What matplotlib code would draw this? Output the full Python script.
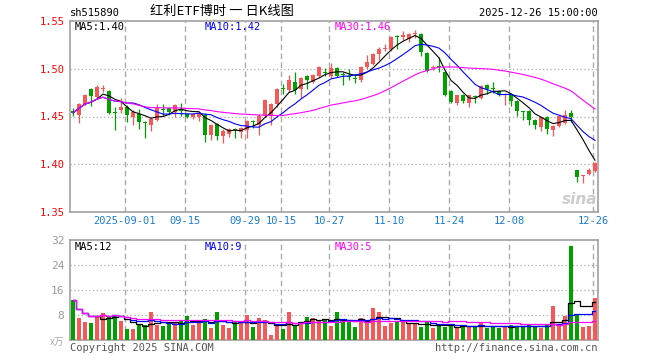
import numpy as np
import pandas as pd
import matplotlib
matplotlib.use("Agg")
import matplotlib.pyplot as plt

plt.rcParams['font.family'] = ['DejaVu Sans Mono', 'Noto Sans CJK SC']

# daily OHLC, 2025-08-19 .. 2025-12-26 (88 trading days)
opens = [1.456, 1.452, 1.463, 1.479, 1.470, 1.479, 1.477, 1.455, 1.457, 1.460,
         1.449, 1.453, 1.444, 1.441, 1.446, 1.458, 1.459, 1.455, 1.458, 1.453,
         1.450, 1.449, 1.452, 1.431, 1.442, 1.430, 1.432, 1.437, 1.434, 1.436,
         1.445, 1.441, 1.451, 1.451, 1.463, 1.480, 1.478, 1.486, 1.479, 1.492,
         1.486, 1.492, 1.497, 1.492, 1.501, 1.494, 1.492, 1.490, 1.488, 1.502,
         1.505, 1.515, 1.521, 1.521, 1.534, 1.533, 1.531, 1.536, 1.536, 1.517,
         1.501, 1.503, 1.497, 1.477, 1.464, 1.472, 1.464, 1.471, 1.469, 1.483,
         1.480, 1.477, 1.472, 1.474, 1.466, 1.456, 1.456, 1.446, 1.439, 1.450,
         1.436, 1.440, 1.443, 1.454, 1.394, 1.388, 1.390, 1.393]
highs = [1.459, 1.464, 1.474, 1.480, 1.483, 1.483, 1.478, 1.460, 1.469, 1.462,
         1.457, 1.458, 1.445, 1.449, 1.463, 1.463, 1.460, 1.463, 1.464, 1.454,
         1.454, 1.455, 1.454, 1.442, 1.443, 1.437, 1.438, 1.438, 1.439, 1.446,
         1.446, 1.453, 1.468, 1.464, 1.480, 1.484, 1.493, 1.497, 1.491, 1.493,
         1.494, 1.503, 1.501, 1.506, 1.502, 1.497, 1.500, 1.493, 1.503, 1.514,
         1.516, 1.523, 1.526, 1.534, 1.535, 1.540, 1.537, 1.541, 1.537, 1.518,
         1.504, 1.512, 1.498, 1.478, 1.473, 1.474, 1.473, 1.473, 1.483, 1.484,
         1.486, 1.478, 1.475, 1.475, 1.467, 1.456, 1.457, 1.447, 1.450, 1.451,
         1.441, 1.451, 1.457, 1.457, 1.394, 1.389, 1.396, 1.402]
lows = [1.451, 1.443, 1.462, 1.461, 1.469, 1.476, 1.453, 1.436, 1.454, 1.444,
        1.441, 1.437, 1.428, 1.435, 1.445, 1.451, 1.452, 1.449, 1.451, 1.448,
        1.447, 1.445, 1.423, 1.425, 1.425, 1.422, 1.429, 1.428, 1.428, 1.427,
        1.438, 1.431, 1.450, 1.441, 1.460, 1.474, 1.476, 1.474, 1.469, 1.479,
        1.485, 1.491, 1.492, 1.490, 1.491, 1.483, 1.488, 1.485, 1.486, 1.500,
        1.504, 1.509, 1.519, 1.519, 1.521, 1.530, 1.528, 1.532, 1.513, 1.497,
        1.499, 1.497, 1.471, 1.464, 1.462, 1.464, 1.460, 1.464, 1.468, 1.474,
        1.475, 1.471, 1.462, 1.461, 1.451, 1.446, 1.441, 1.437, 1.435, 1.432,
        1.430, 1.439, 1.442, 1.444, 1.381, 1.380, 1.389, 1.392]
closes = [1.454, 1.463, 1.472, 1.471, 1.481, 1.480, 1.454, 1.454, 1.460, 1.452,
          1.455, 1.444, 1.443, 1.447, 1.459, 1.457, 1.455, 1.462, 1.456, 1.450,
          1.453, 1.454, 1.431, 1.441, 1.430, 1.435, 1.437, 1.436, 1.438, 1.445,
          1.444, 1.451, 1.467, 1.463, 1.479, 1.479, 1.488, 1.478, 1.490, 1.488,
          1.493, 1.502, 1.496, 1.501, 1.492, 1.493, 1.491, 1.489, 1.502, 1.507,
          1.515, 1.521, 1.522, 1.533, 1.533, 1.535, 1.536, 1.537, 1.518, 1.498,
          1.502, 1.502, 1.472, 1.465, 1.472, 1.466, 1.472, 1.470, 1.482, 1.479,
          1.479, 1.472, 1.473, 1.466, 1.456, 1.455, 1.446, 1.441, 1.449, 1.437,
          1.440, 1.451, 1.452, 1.450, 1.387, 1.389, 1.394, 1.401]
# volume, unit: 万
volumes = [12.8, 6.9, 5.9, 5.5, 7.5, 8.6, 7.5, 8.1, 6.2, 3.6,
           3.6, 4.9, 4.9, 9.1, 4.9, 4.4, 5.4, 5.4, 6.4, 7.8,
           4.8, 5.9, 6.7, 3.9, 9.1, 4.8, 3.9, 6.1, 5.5, 8.0,
           4.3, 6.9, 6.4, 1.6, 5.2, 3.5, 9.1, 4.8, 5.9, 7.5,
           6.9, 6.4, 6.4, 4.5, 9.1, 6.4, 6.4, 4.3, 6.9, 6.4,
           10.3, 9.1, 4.6, 5.5, 6.0, 6.0, 5.0, 5.0, 4.3, 6.0,
           3.9, 4.8, 4.3, 4.8, 3.7, 4.8, 4.3, 4.3, 5.9, 3.9,
           4.5, 3.9, 4.3, 4.8, 4.6, 4.2, 4.8, 4.6, 3.9, 5.0,
           10.9, 4.9, 7.7, 30.1, 8.2, 4.3, 4.6, 13.5]

tick_idx = [9, 19, 29, 35, 43, 53, 63, 73, 87]
tick_labels = ["2025-09-01", "09-15", "09-29", "10-15", "10-27",
               "11-10", "11-24", "12-08", "12-26"]
price_ticks = [1.35, 1.40, 1.45, 1.50, 1.55]
vol_ticks = [8, 16, 24, 32]

RED = '#f65757'
GREEN = '#00a000'
GRID = '#aaaaaa'
W, H = 660, 360


def px(x, y):
    return x / W, 1 - y / H


fig = plt.figure(figsize=(6.6, 3.6), dpi=100)
ax = fig.add_axes([70 / W, 1 - 212 / H, 528 / W, 191 / H])
axv = fig.add_axes([70 / W, 1 - 340 / H, 528 / W, 100 / H])

x = np.arange(len(closes))
o = np.array(opens)
c = np.array(closes)
colors = np.where(c >= o, RED, GREEN)

# candles
ax.vlines(x, lows, highs, colors=colors, lw=0.9, zorder=3)
body_h = np.maximum(np.abs(c - o), 0.0009)
ax.bar(x, body_h, bottom=np.minimum(o, c), width=0.8, color=colors,
       linewidth=0, zorder=3)

s = pd.Series(closes)
for n, col in [(5, 'black'), (10, '#0000ff'), (30, '#ff00ff')]:
    ax.plot(x, s.rolling(n, min_periods=1).mean(), color=col, lw=0.8, zorder=4)

# volume
axv.bar(x, volumes, width=0.8, color=colors, linewidth=0, zorder=3)
sv = pd.Series(volumes)
for n, col in [(5, 'black'), (10, '#0000ff'), (30, '#ff00ff')]:
    axv.plot(x, sv.rolling(n, min_periods=1).mean(), color=col, lw=0.9,
             drawstyle='steps-mid', zorder=4)

for a in (ax, axv):
    a.set_xlim(-0.5, len(closes) - 0.5)
    for xi in tick_idx:
        a.axvline(xi - 0.35, color=GRID, lw=1, ls=(0, (4, 2.5)), zorder=1)
    for sp in a.spines.values():
        sp.set_color('#999999')
        sp.set_linewidth(1.1)
    a.tick_params(length=0)

ax.set_ylim(1.35, 1.55)
for p in price_ticks[1:-1]:
    ax.axhline(p, color=GRID, lw=0.9, ls=(0, (1, 2)), zorder=1)
ax.set_yticks(price_ticks)
ax.set_yticklabels([f"{p:.2f}" for p in price_ticks], color='#ff0000', fontsize=7.5)
ax.set_xticks(np.array(tick_idx) - 0.35)
ax.set_xticklabels(tick_labels, color='#1a7fd0', fontsize=7.5)
ax.tick_params(axis='y', pad=4)
ax.tick_params(axis='x', pad=3)

axv.set_ylim(0, 32)
for v in vol_ticks[:-1]:
    axv.axhline(v, color=GRID, lw=0.9, ls=(0, (1, 2)), zorder=1)
axv.set_yticks(vol_ticks)
axv.set_yticklabels([str(v) for v in vol_ticks], color='#999999', fontsize=8)
axv.set_xticks([])
axv.tick_params(axis='y', pad=4)

# texts
fs = 7.5
fig.text(*px(70, 13), "sh515890", fontsize=fs, va='center', ha='left')
fig.text(*px(150, 12), "红利ETF博时 一 日K线图", fontsize=9.5, va='center',
         ha='left', family=['Noto Sans CJK SC', 'DejaVu Sans'])
fig.text(*px(598, 13), "2025-12-26 15:00:00", fontsize=fs, va='center', ha='right')

fig.text(*px(75, 27), "MA5:1.40", fontsize=fs, va='center', color='black')
fig.text(*px(205, 27), "MA10:1.42", fontsize=fs, va='center', color='#0000ff')
fig.text(*px(335, 27), "MA30:1.46", fontsize=fs, va='center', color='#ff00ff')
fig.text(*px(75, 247), "MA5:12", fontsize=fs, va='center', color='black')
fig.text(*px(205, 247), "MA10:9", fontsize=fs, va='center', color='#0000ff')
fig.text(*px(335, 247), "MA30:5", fontsize=fs, va='center', color='#ff00ff')

fig.text(*px(64, 342), "x万", fontsize=7, va='center', ha='right', color='#aaaaaa',
         family=['Noto Sans CJK SC', 'DejaVu Sans'])
fig.text(*px(70, 348), "Copyright 2025 SINA.COM", fontsize=fs, va='center',
         ha='left', color='#555555')
fig.text(*px(598, 348), "http://finance.sina.com.cn", fontsize=fs, va='center',
         ha='right', color='#555555')
fig.text(*px(597, 200), "sina", fontsize=11, va='center', ha='right',
         color='#cccccc', fontweight='bold', style='italic',
         family=['DejaVu Sans'])

fig.savefig("out.png", dpi=100)
